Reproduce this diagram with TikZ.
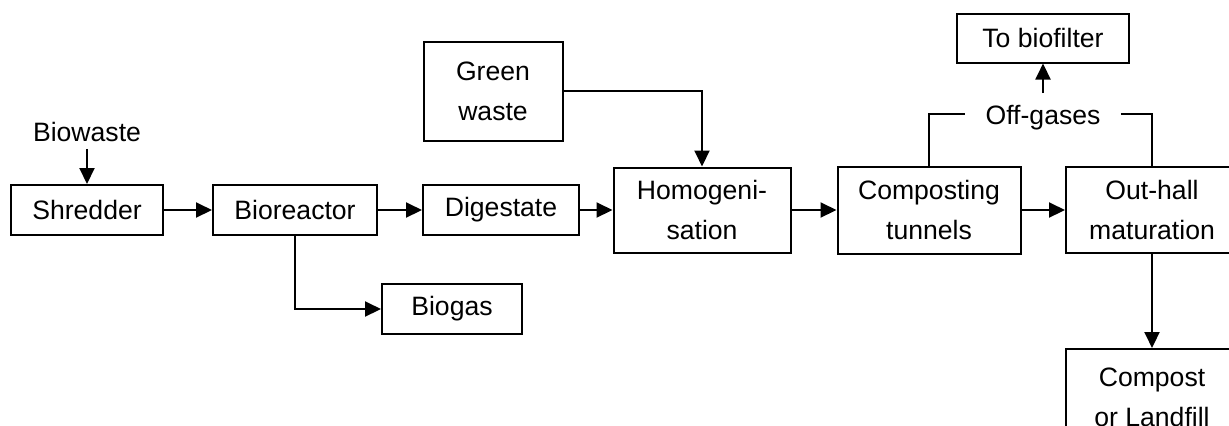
\documentclass[tikz,border=0pt]{standalone}
\usepackage{fontspec}
\setmainfont{Liberation Sans}
\usetikzlibrary{arrows.meta,positioning}
\tikzset{bloc/.style={draw,line width=1pt,align=center,inner sep=0pt,font=\fontsize{13.3}{20}\selectfont},flux/.style={-{Triangle[length=8pt,width=7.5pt]},line width=1pt},texte/.style={font=\fontsize{13.3}{20}\selectfont}}
\begin{document}
\begin{tikzpicture}[x=0.5pt,y=-0.5pt]
\useasboundingbox (0,0) rectangle (1229,425);
\node[texte] (biowaste) at (87,132) {Biowaste};
\node[bloc,minimum width=76pt,minimum height=25pt] (shredder) at (87,210) {Shredder};
\node[bloc,minimum width=82pt,minimum height=25pt] (bioreactor) at (295,210) {Bioreactor};
\node[bloc,minimum width=78pt,minimum height=25pt] (digestate) at (501,210) {Digestate};
\node[bloc,minimum width=70pt,minimum height=25pt] (biogas) at (452,309) {Biogas};
\node[bloc,minimum width=69.5pt,minimum height=49.5pt] (green) at (493,91) {Green\\waste};
\node[bloc,minimum width=88.5pt,minimum height=42.5pt] (homog) at (702,210) {Homogeni-\\sation};
\node[bloc,minimum width=91.5pt,minimum height=43.5pt] (tunnels) at (929,210) {Composting\\tunnels};
\node[bloc,minimum width=86pt,minimum height=43pt] (outhall) at (1152,210) {Out-hall\\maturation};
\node[bloc,minimum width=86pt,minimum height=24.5pt] (biofilter) at (1043,38) {To biofilter};
\node[texte,inner xsep=10pt,inner ysep=6pt] (offgas) at (1043,118) {Off-gases};
\node[bloc,minimum width=86pt,minimum height=48pt,anchor=north] (compost) at (1152,348) {Compost\\or Landfill};
\draw[flux] (biowaste)--(shredder);
\draw[flux] (shredder)--(bioreactor);
\draw[flux] (bioreactor)--(digestate);
\draw[flux] (bioreactor.south)|-(biogas.west);
\draw[flux] (digestate)--(homog);
\draw[flux] (green.east)-|(homog.north);
\draw[flux] (homog)--(tunnels);
\draw[flux] (tunnels)--(outhall);
\draw[line width=1pt] (tunnels.north)|-([yshift=2pt]offgas.west);
\draw[line width=1pt] ([yshift=2pt]offgas.east)-|(outhall.north);
\draw[flux] (offgas.north)--(biofilter.south);
\draw[flux] (outhall)--(compost);
\end{tikzpicture}
\end{document}
